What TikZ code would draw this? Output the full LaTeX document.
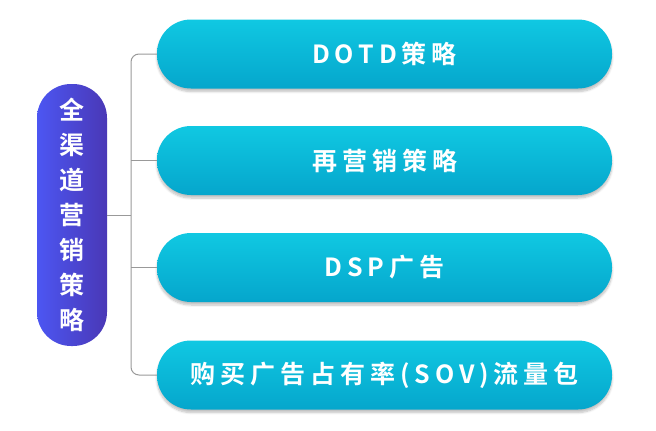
\documentclass[tikz,border=0pt]{standalone}
\usepackage{fontspec}
\setmainfont{Noto Sans CJK SC Bold}
\newfontfamily\spaced[LetterSpace=20]{Noto Sans CJK SC Bold}
\usetikzlibrary{shadows.blur}
\definecolor{cyT}{HTML}{10C8E2}
\definecolor{cyB}{HTML}{05A6CC}
\definecolor{puL}{HTML}{4C56F2}
\definecolor{puR}{HTML}{4A38B6}
\begin{document}
\begin{tikzpicture}[x=1pt,y=-1pt,
  pill/.style={rounded corners=34pt,top color=cyT,bottom color=cyB,draw=none,
    minimum width=455pt,minimum height=69pt,text=white,
    font=\spaced\fontsize{25}{28}\selectfont,
    blur shadow={shadow xshift=0pt,shadow yshift=-3pt,shadow blur steps=6,shadow opacity=25}},
  conn/.style={draw=gray!80,line width=1pt,rounded corners=8pt}]
\useasboundingbox (0,0) rectangle (656,431);
\node[rounded corners=34pt,left color=puL,right color=puR,minimum width=70pt,minimum height=262pt,text=white,
  font=\fontsize{25}{35}\selectfont,align=center,inner sep=0pt] (root) at (72,215)
  {全\\渠\\道\\营\\销\\策\\略};
\node[pill] (p1) at (384.5,54) {DOTD策略};
\node[pill] (p2) at (384.5,160.5) {再营销策略};
\node[pill] (p3) at (384.5,267.5) {DSP广告};
\node[pill] (p4) at (384.5,375) {购买广告占有率(SOV)流量包};
\coordinate (j) at (131,215);
\draw[conn] (root.east |- j) -- (j);
\draw[conn] (p1.west) -| (j) |- (p4.west);
\draw[conn] (j |- p2.west) -- (p2.west);
\draw[conn] (j |- p3.west) -- (p3.west);
\end{tikzpicture}
\end{document}
